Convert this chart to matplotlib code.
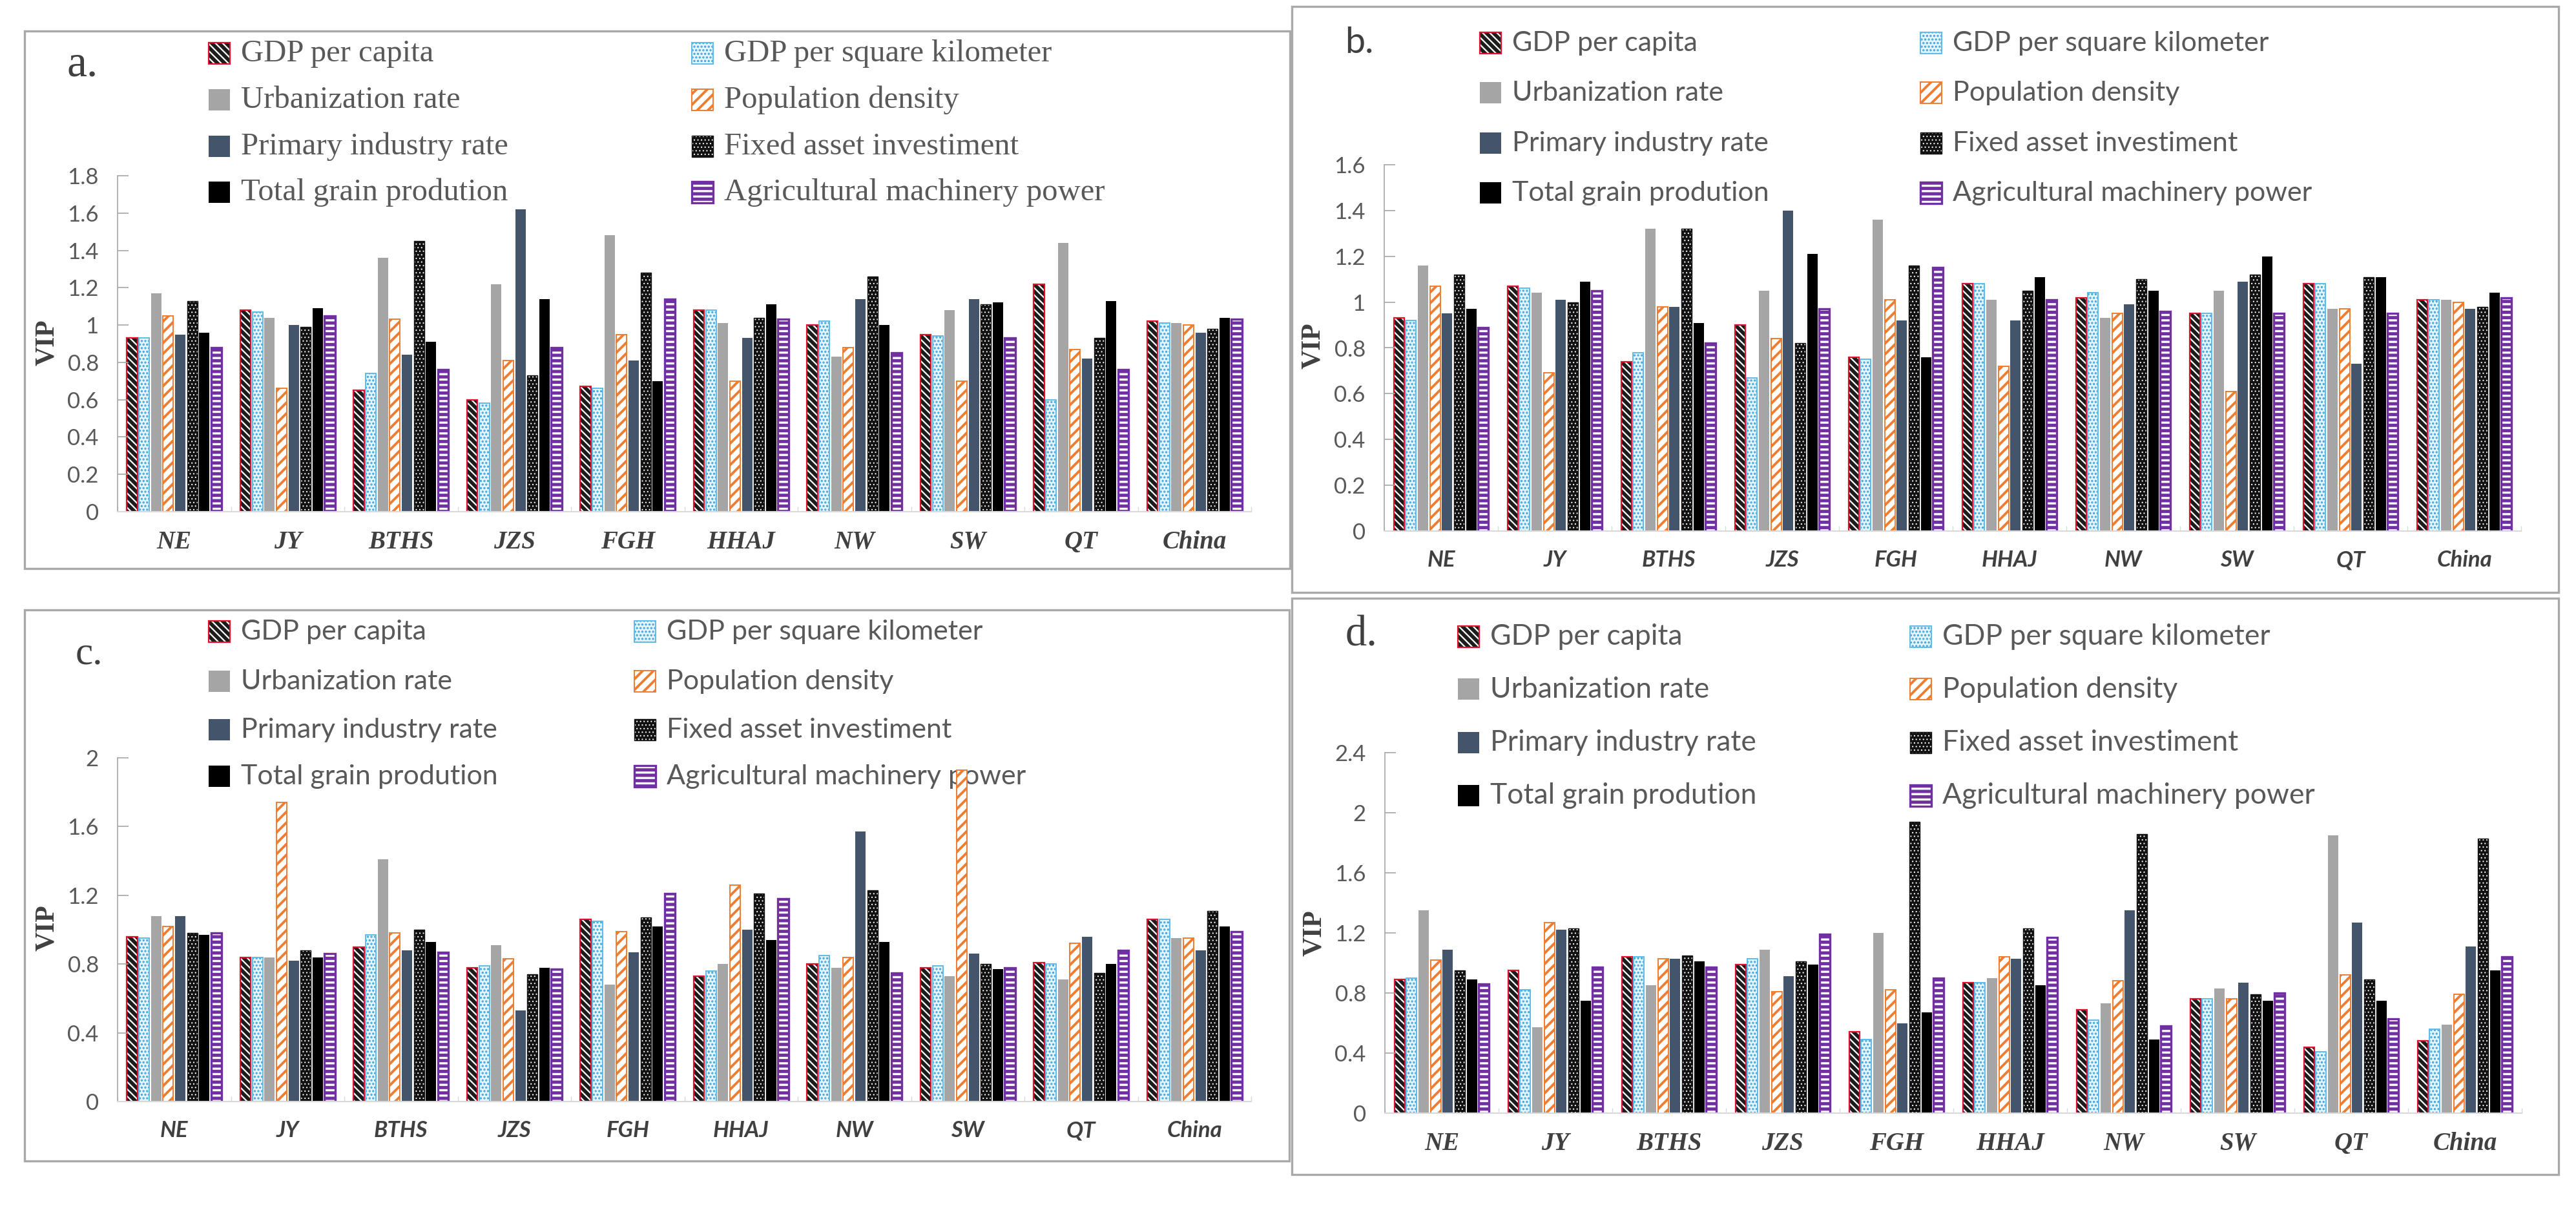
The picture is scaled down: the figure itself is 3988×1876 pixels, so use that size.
import numpy as np
import matplotlib
matplotlib.use('Agg')
import matplotlib.pyplot as plt
from matplotlib.patches import Rectangle

W, H = 3988, 1876
DPI = 100

regions = ['NE', 'JY', 'BTHS', 'JZS', 'FGH', 'HHAJ', 'NW', 'SW', 'QT', 'China']
series = ['GDP per capita', 'GDP per square kilometer', 'Urbanization rate',
          'Population density', 'Primary industry rate', 'Fixed asset investiment',
          'Total grain prodution', 'Agricultural machinery power']

# VIP values, one row per series, one column per region
vip_a = [
    [0.93, 1.08, 0.65, 0.60, 0.67, 1.08, 1.00, 0.95, 1.22, 1.02],
    [0.93, 1.07, 0.74, 0.58, 0.66, 1.08, 1.02, 0.94, 0.60, 1.01],
    [1.17, 1.04, 1.36, 1.22, 1.48, 1.01, 0.83, 1.08, 1.44, 1.01],
    [1.05, 0.66, 1.03, 0.81, 0.95, 0.70, 0.88, 0.70, 0.87, 1.00],
    [0.95, 1.00, 0.84, 1.62, 0.81, 0.93, 1.14, 1.14, 0.82, 0.96],
    [1.13, 0.99, 1.45, 0.73, 1.28, 1.04, 1.26, 1.11, 0.93, 0.98],
    [0.96, 1.09, 0.91, 1.14, 0.70, 1.11, 1.00, 1.12, 1.13, 1.04],
    [0.88, 1.05, 0.76, 0.88, 1.14, 1.03, 0.85, 0.93, 0.76, 1.03],
]
vip_b = [
    [0.93, 1.07, 0.74, 0.90, 0.76, 1.08, 1.02, 0.95, 1.08, 1.01],
    [0.92, 1.06, 0.78, 0.67, 0.75, 1.08, 1.04, 0.95, 1.08, 1.01],
    [1.16, 1.04, 1.32, 1.05, 1.36, 1.01, 0.93, 1.05, 0.97, 1.01],
    [1.07, 0.69, 0.98, 0.84, 1.01, 0.72, 0.95, 0.61, 0.97, 1.00],
    [0.95, 1.01, 0.98, 1.40, 0.92, 0.92, 0.99, 1.09, 0.73, 0.97],
    [1.12, 1.00, 1.32, 0.82, 1.16, 1.05, 1.10, 1.12, 1.11, 0.98],
    [0.97, 1.09, 0.91, 1.21, 0.76, 1.11, 1.05, 1.20, 1.11, 1.04],
    [0.89, 1.05, 0.82, 0.97, 1.15, 1.01, 0.96, 0.95, 0.95, 1.02],
]
vip_c = [
    [0.96, 0.84, 0.90, 0.78, 1.06, 0.73, 0.80, 0.78, 0.81, 1.06],
    [0.95, 0.84, 0.97, 0.79, 1.05, 0.76, 0.85, 0.79, 0.80, 1.06],
    [1.08, 0.84, 1.41, 0.91, 0.68, 0.80, 0.78, 0.73, 0.71, 0.95],
    [1.02, 1.74, 0.98, 0.83, 0.99, 1.26, 0.84, 1.93, 0.92, 0.95],
    [1.08, 0.82, 0.88, 0.53, 0.87, 1.00, 1.57, 0.86, 0.96, 0.88],
    [0.98, 0.88, 1.00, 0.74, 1.07, 1.21, 1.23, 0.80, 0.75, 1.11],
    [0.97, 0.84, 0.93, 0.78, 1.02, 0.94, 0.93, 0.77, 0.80, 1.02],
    [0.98, 0.86, 0.87, 0.77, 1.21, 1.18, 0.75, 0.78, 0.88, 0.99],
]
vip_d = [
    [0.89, 0.95, 1.04, 0.99, 0.54, 0.87, 0.69, 0.76, 0.44, 0.48],
    [0.90, 0.82, 1.04, 1.03, 0.49, 0.87, 0.62, 0.76, 0.41, 0.56],
    [1.35, 0.57, 0.85, 1.09, 1.20, 0.90, 0.73, 0.83, 1.85, 0.59],
    [1.02, 1.27, 1.03, 0.81, 0.82, 1.04, 0.88, 0.76, 0.92, 0.79],
    [1.09, 1.22, 1.03, 0.91, 0.60, 1.03, 1.35, 0.87, 1.27, 1.11],
    [0.95, 1.23, 1.05, 1.01, 1.94, 1.23, 1.86, 0.79, 0.89, 1.83],
    [0.89, 0.75, 1.01, 0.99, 0.67, 0.85, 0.49, 0.75, 0.75, 0.95],
    [0.86, 0.97, 0.97, 1.19, 0.90, 1.17, 0.58, 0.80, 0.63, 1.04],
]

# face, hatch, hatch colour, border colour, border width, hatch width
styles = [
    ('#1c1c1c', '\\\\\\', 'white', '#e3102d', 1.6, 1.6),
    ('#e6f5fc', '...', '#3ea5dc', '#5fbbe8', 1.4, 1.6),
    ('#a5a5a5', None, None, None, 0, 0),
    ('white', '//', '#ed7d31', '#ed7d31', 1.4, 2.8),
    ('#44546a', None, None, None, 0, 0),
    ('#121212', '...', 'white', '#121212', 1.0, 0.8),
    ('#000000', None, None, None, 0, 0),
    ('#7030a0', '--', 'white', '#7030a0', 2.4, 2.4),
]

SERIF = 'Liberation Serif'
SANS = 'Lato'
GREY = '#595959'

plt.rcParams['hatch.linewidth'] = 1.6

# layout of the four panels in pixels
panels = [
    dict(vals=vip_a, ax=(182, 272, 1937, 792), ymax=1.8, step=0.2, box=(38, 48, 1997, 880),
         tag='a.', tag_xy=(103, 117), tag_font=SERIF, tag_size=50,
         leg_font=SERIF, leg_size=35, rows=[83, 155, 227, 298], cols=[323, 1071],
         xfont=SERIF, xsize=28, vip_xy=(-0.062, 0.504)),
    dict(vals=vip_b, ax=(2143, 255, 3903, 822), ymax=1.6, step=0.2, box=(2000, 10, 3961, 917),
         tag='b.', tag_xy=(2082, 82), tag_font=SANS, tag_size=40,
         leg_font=SANS, leg_size=31, rows=[67, 144, 222, 299], cols=[2291, 2973],
         xfont=SANS, xsize=25, vip_xy=(-0.0625, 0.506)),
    dict(vals=vip_c, ax=(182, 1173, 1937, 1705), ymax=2.0, step=0.4, box=(38, 944, 1996, 1797),
         tag='c.', tag_xy=(117, 1027), tag_font=SERIF, tag_size=44,
         leg_font=SANS, leg_size=31, rows=[978, 1055, 1130, 1202], cols=[323, 982],
         xfont=SANS, xsize=25, vip_xy=(-0.062, 0.506)),
    dict(vals=vip_d, ax=(2144, 1165, 3904, 1723), ymax=2.4, step=0.4, box=(2000, 926, 3961, 1818),
         tag='d.', tag_xy=(2083, 1000), tag_font=SERIF, tag_size=48,
         leg_font=SANS, leg_size=32, rows=[986, 1067, 1150, 1232], cols=[2257, 2957],
         xfont=SERIF, xsize=28, vip_xy=(-0.062, 0.50)),
]


def bar_set(target, x, h, width, i, bottom=0):
    face, hatch, hcol, ecol, lw, hlw = styles[i]
    if hatch:
        bars = target.bar(x, h, width=width, bottom=bottom, color=face, edgecolor=hcol,
                          hatch=hatch, linewidth=0)
        for patch in bars:
            if hasattr(patch, 'set_hatch_linewidth'):
                patch.set_hatch_linewidth(hlw)
        target.bar(x, h, width=width, bottom=bottom, fill=False, edgecolor=ecol, linewidth=lw)
    else:
        target.bar(x, h, width=width, bottom=bottom, color=face, linewidth=0)


fig = plt.figure(figsize=(W / DPI, H / DPI), dpi=DPI)
bg = fig.add_axes([0, 0, 1, 1])
bg.set_xlim(0, W)
bg.set_ylim(H, 0)
bg.axis('off')

x = np.arange(len(regions))
slot = 0.85 / len(series)
sq = 33

for p in panels:
    # panel frame, tag and legend
    bx0, by0, bx1, by1 = p['box']
    bg.add_patch(Rectangle((bx0, by0), bx1 - bx0, by1 - by0, fill=False,
                           edgecolor='#a9a9a9', linewidth=2.4))
    bg.text(p['tag_xy'][0], p['tag_xy'][1], p['tag'], fontsize=p['tag_size'],
            family=p['tag_font'], color='#404040', va='baseline', ha='left')
    for k, name in enumerate(series):
        col, row = k % 2, k // 2
        mx = p['cols'][col]
        my = p['rows'][row]
        bar_set(bg, mx + sq / 2, sq, sq, k, bottom=my - sq / 2)
        bg.text(mx + sq + 17, my, name, fontsize=p['leg_size'], family=p['leg_font'],
                color=GREY, va='center', ha='left')

    # chart
    l, t, r, b = p['ax']
    ax = fig.add_axes([l / W, 1 - b / H, (r - l) / W, (b - t) / H])
    ax.set_facecolor('none')
    for i, v in enumerate(p['vals']):
        pos = x - 0.425 + slot * (i + 0.5)
        bar_set(ax, pos, v, slot * 0.86, i)
    ax.set_xlim(-0.5, len(regions) - 0.5)
    ax.set_ylim(0, p['ymax'])
    ticks = np.arange(0, p['ymax'] + 1e-9, p['step'])
    ax.set_yticks(ticks)
    ax.set_yticklabels([f'{t:g}' for t in ticks], family=SANS, fontsize=25, color=GREY)
    ax.tick_params(axis='y', direction='in', length=12, width=1.2, color='#a6a6a6', pad=21)
    ax.set_xticks(x)
    ax.set_xticklabels(regions, family=p['xfont'], fontsize=p['xsize'], fontweight='bold',
                       style='italic', color='#404040')
    ax.set_xticks(np.arange(-0.5, len(regions)), minor=True)
    ax.tick_params(axis='x', which='major', length=0, pad=21)
    ax.tick_params(axis='x', which='minor', direction='in', length=6, width=1, color='#d9d9d9')
    for s in ('top', 'right'):
        ax.spines[s].set_visible(False)
    ax.spines['left'].set_color('#a6a6a6')
    ax.spines['left'].set_linewidth(1.2)
    ax.spines['bottom'].set_color('#d9d9d9')
    ax.spines['bottom'].set_linewidth(1.5)
    ax.set_ylabel('VIP', family=SERIF, fontsize=30, fontweight='bold', color='#404040',
                  va='center')
    ax.yaxis.set_label_coords(*p['vip_xy'])

fig.savefig('out.png', dpi=DPI)
